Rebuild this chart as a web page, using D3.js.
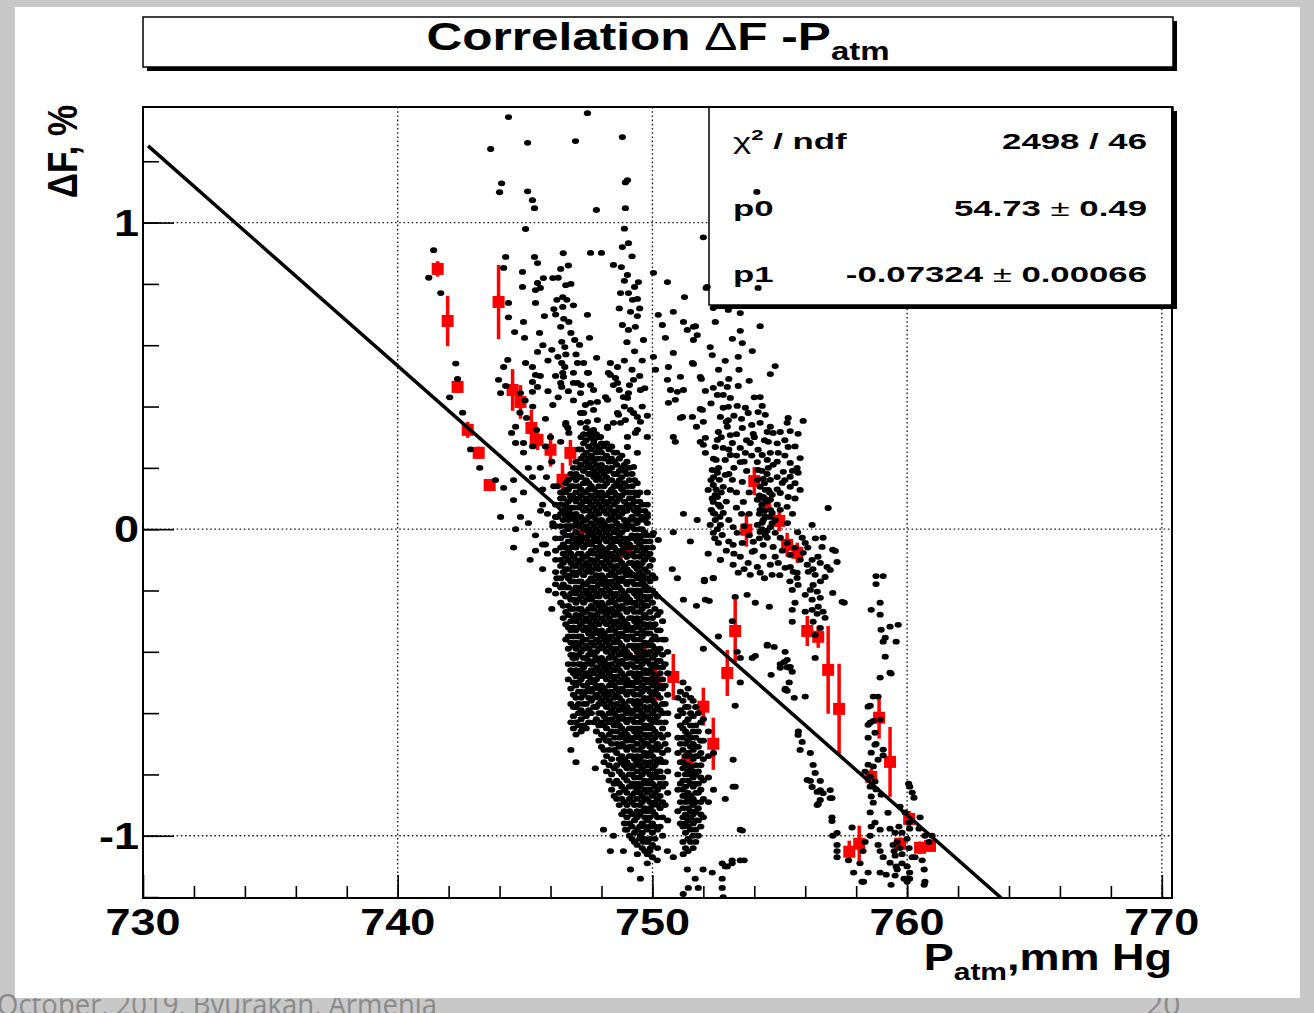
<!DOCTYPE html>
<html>
<head>
<meta charset="utf-8">
<script src="https://cdn.jsdelivr.net/npm/d3@7"></script>
<style>
  html, body { margin: 0; background: #c8c8c8; }
  svg { display: block; }
</style>
</head>
<body>
<svg id="chart" width="1314" height="1013"></svg>
<script>
// ── axis ticks / fit ─────────────────────────────
const xTicks = [730, 740, 750, 760, 770];
const yTicks = [-1, 0, 1];
const fitP0 = 54.73;
const fitP1 = -0.07324;
const statsRows = [
  { label: 'chi', value: '2498 / 46' },
  { label: 'p0', value: '54.73', err: '0.49' },
  { label: 'p1', value: '-0.07324', err: '0.00066' },
];

// ── red profile points (P, ΔF, error) ────────────
const binP   = [741.57, 741.96, 742.35, 742.75, 743.18, 743.61, 743.96, 744.51, 744.82, 745.25, 745.49, 746.0, 746.47, 746.78, 747.10,
                748.98, 749.53, 750.12, 750.82, 751.37, 752.0, 752.39, 752.94, 753.25, 753.69, 754.0, 754.43, 754.98, 755.29, 755.69,
                756.08, 756.51, 756.90, 757.33, 757.73, 758.12, 758.59, 758.90, 759.33, 759.73, 760.08, 760.51, 760.90];
const binDF  = [0.849, 0.679, 0.464, 0.324, 0.249, 0.144, 0.741, 0.454, 0.415, 0.330, 0.291, 0.259, 0.161, 0.249, -0.019,
                -0.074, -0.403, -0.498, -0.482, -0.752, -0.579, -0.700, -0.469, -0.332, -0.002, 0.157, 0.076, 0.027, -0.051, -0.077,
                -0.332, -0.351, -0.459, -0.586, -1.052, -1.026, -0.808, -0.615, -0.759, -1.026, -0.945, -1.039, -1.033];
const binErr = [0.025, 0.082, 0.02, 0.026, 0.02, 0.02, 0.121, 0.068, 0.055, 0.059, 0.033, 0.055, 0.055, 0.042, 0.026,
                0.026, 0.026, 0.065, 0.075, 0.026, 0.062, 0.085, 0.075, 0.101, 0.055, 0.046, 0.033, 0.033, 0.039, 0.033,
                0.049, 0.036, 0.143, 0.147, 0.036, 0.059, 0.026, 0.068, 0.114, 0.02, 0.026, 0.02, 0.02];

// ── black points, [P, ΔF] ─────────────────────────
const dotsWest = [
  [741.41,0.91],[741.22,0.82],[741.69,0.77],[742.28,0.54],[742.35,0.49],[742.04,0.43],[742.55,0.38],[742.86,0.26],
  [743.22,0.20],[743.84,0.16],[744.16,0.135],[744.04,0.04],[744.55,-0.06],[744.55,0.095],[744.82,0.04],[745.13,0.02],
  [744.63,0.0],[745.41,-0.02],[745.69,-0.05],[746.09,0.02],[746.21,0.04],[746.4,0.10],[746.6,0.13],[745.69,0.08],
  [745.88,0.05],[746.13,0.14],[746.79,0.105],[746.71,0.01],[744.55,0.16],[745.13,0.20],[745.6,0.20],[745.29,0.17],
  [744.94,0.12],[744.94,0.25],[745.8,-0.05],[745.88,-0.08],[745.69,-0.13],[746.25,-0.16],[745.92,-0.20],[745.41,-0.07],
  [745.2,-0.10],[746.05,-0.26],[746.05,0.22],[745.84,0.17],[745.69,0.13],[745.61,0.06],[746.27,0.04],[746.09,0.01],
  [746.6,0.07],[746.87,0.105],[746.68,0.16],[746.27,0.14]
];
const dotsUpper = [
  [744.35,1.344],[747.45,1.357],[743.65,1.24],[745.1,1.26],[746.98,1.266],[748.82,1.279],[744.08,1.128],[744.0,1.099],
  [745.1,1.102],[745.29,1.073],[745.37,1.047],[748.94,1.131],[749.02,1.138],[747.8,1.041],[748.94,1.047],[745.02,0.979],
  [748.82,0.92],[749.06,0.933],[747.57,0.901],[748.0,0.901],[752.0,0.952],[754.1,1.10],[754.15,0.787],
  [744.24,0.888],[744.16,0.852],[745.37,0.888],[745.49,0.868],[744.9,0.839],[746.4,0.849],[745.49,0.803],[745.72,0.819],
  [746.09,0.819],[746.6,0.796],[745.41,0.78],[745.6,0.787],[746.25,0.748],[746.48,0.757],[746.64,0.748],[745.41,0.738],
  [744.35,0.738],[744.94,0.676],[744.9,0.79],[744.35,0.691],[745.76,0.695],[746.13,0.718],[746.48,0.725],[746.52,0.686],
  [746.72,0.676],[747.45,0.699],[748.47,0.862],[748.78,0.855],[749.02,0.829],[749.45,0.806],[749.41,0.751],[748.75,0.77],
  [749.06,0.77],[749.22,0.748],[749.14,0.709],[749.41,0.695],[748.82,0.666],[749.06,0.65],[749.33,0.66],[749.65,0.617],
  [750.04,0.836],[750.59,0.806],[751.26,0.757],[750.82,0.709],[750.23,0.699],[750.39,0.666],[751.22,0.676],[751.61,0.66],
  [751.37,0.65],[751.76,0.633],[752.11,0.787],
  [746.5,0.90],[746.7,0.86],[746.3,0.82],[746.8,0.80],[746.9,0.73],[746.2,0.70],[746.4,0.66],[746.8,0.64],
  [748.9,0.98],[749.2,0.89],[748.9,0.81],[749.3,0.79],[749.5,0.72],[748.7,0.72]
];
const dotsSpine = [
  [744.59,0.643],[744.98,0.624],[745.57,0.64],[746.05,0.585],[746.44,0.611],[746.56,0.594],[746.95,0.617],[747.14,0.601],
  [747.53,0.624],[747.3,0.542],[747.81,0.559],[746.29,0.562],[746.44,0.542],[746.56,0.529],[746.48,0.51],[746.4,0.477],
  [746.44,0.464],[747.06,0.542],[747.45,0.51],[747.06,0.477],[747.57,0.47],[748.35,0.542],[748.63,0.529],[748.27,0.51],
  [748.55,0.493],[748.47,0.47],[748.7,0.454],[749.06,0.444],[749.02,0.428],[748.16,0.431],[747.84,0.415],[747.37,0.405],
  [747.69,0.389],[747.18,0.379],[745.49,0.578],[745.29,0.529],[745.02,0.542],[744.32,0.552],[744.16,0.529],[745.41,0.503],
  [745.29,0.48],[743.96,0.487],[744.24,0.467],[744.04,0.444],[744.82,0.444],[745.29,0.448],[745.49,0.464],[746.09,0.405],
  [744.63,0.334],[744.47,0.314],[744.63,0.281],[744.94,0.281],[745.06,0.363],[745.45,0.324],[746.4,0.285],[746.6,0.34],
  [746.72,0.314],[747.45,0.35],[747.69,0.324],[747.96,0.301],[748.24,0.33],[748.47,0.347],[748.67,0.373],[748.94,0.356],
  [749.26,0.379],[749.53,0.35],[749.33,0.314],[749.02,0.268],[749.41,0.249],[749.26,0.203],[749.41,0.118],[749.45,0.063],
  [749.8,0.04],[750.04,-0.012],[750.23,-0.035],[746.6,0.347],[746.68,0.33],[747.3,0.379],[747.57,0.412],[747.18,0.444],
  [747.69,0.454],[746.9,0.477],[746.51,0.497],[747.49,0.51],[748.35,0.503],[748.63,0.477],[749.26,0.487],[749.53,0.454],
  [748.86,0.431],[748.24,0.422],[749.14,0.389],[748.63,0.379],[749.41,0.366],[747.18,0.347],[747.84,0.356],[748.24,0.334],
  [748.75,0.347],[749.41,0.324],[749.8,0.301],[747.57,0.314],[749.02,0.301],[750.51,0.624],[750.82,0.575],[750.63,0.529],
  [751.1,0.497],[751.57,0.542],[751.88,0.497],[751.96,0.389],[751.57,0.366],[751.1,0.363],[750.82,0.301],[751.88,0.285],
  [752.08,0.249],[750.04,0.562],[750.12,0.52],[750.71,0.454],[750.9,0.422],[750.59,0.487],[750.98,0.448],[751.22,0.454],
  [750.63,0.412],[751.18,0.366],[750.9,0.285],
  [747.0,0.57],[746.6,0.57],[746.9,0.51],[746.2,0.50],[746.7,0.45],[746.3,0.43],[746.9,0.42],[747.2,0.47],
  [749.0,0.61],[749.3,0.58],[749.6,0.55],[748.9,0.55],[749.2,0.52],[749.5,0.50],[749.7,0.46],[749.1,0.47],
  [749.6,0.40],[749.8,0.37],[748.9,0.40],[745.7,0.60],[745.9,0.55],[745.6,0.50],[745.9,0.45],[745.3,0.40],
  [745.8,0.36],[745.0,0.42],[744.8,0.38],[746.0,0.30],[745.8,0.27],[745.3,0.27]
];
const dotsGap = [
  [751.22,0.05],[751.76,0.03],[750.82,-0.01],[751.49,-0.04],[752.19,-0.08],[750.78,-0.13],[750.98,-0.16],[751.22,-0.23],
  [751.73,-0.25],[752.04,-0.17],[752.39,-0.16],[752.08,-0.23],[752.67,-0.10],[753.14,-0.30],[753.33,-0.40],[753.45,-0.42],
  [752.59,-0.35],[752.0,-0.39],[753.92,-0.42],[754.51,-0.38],[755.02,-0.44],[755.29,-0.45],[755.22,-0.52],[755.73,-0.66],
  [753.17,-0.84],[752.86,-0.88],[753.45,-0.98],[747.76,-0.78],[748.27,-0.69],[746.88,-0.42],[747.26,-0.65],[746.8,-0.72],
  [747.0,-0.76],[749.53,-1.00],[749.92,-1.04],[749.41,-1.06],[750.19,-1.08],[749.8,-1.09],[750.59,-1.05],[750.82,-1.07],
  [751.21,-1.06],[751.37,-1.11],[751.68,-1.14],[751.41,-1.17],[751.21,-1.19],[751.8,-1.17],[751.99,-1.11],[752.74,-1.09],
  [752.94,-1.10],[753.13,-1.08],[753.45,-1.08],[752.74,-1.14],[752.74,-1.17],[752.78,-1.20],[752.35,-1.12],[749.65,-1.02],
  [749.14,-1.11],[749.53,-1.14],[748.35,-1.05],[748.94,-0.98],[748.08,-0.98],[748.47,-1.00],[748.86,-1.05]
];
const dotsEast = [
  [752.15,0.79],[752.39,0.721],[752.98,0.715],[753.45,0.705],[752.47,0.676],[754.23,0.662],[751.69,0.662],[751.61,0.617],
  [753.45,0.647],[753.14,0.621],[753.53,0.607],[752.27,0.594],[752.35,0.568],[753.92,0.581],[752.86,0.549],[753.37,0.562],
  [751.61,0.539],[754.82,0.532],[754.63,0.506],[751.92,0.49],[753.8,0.484],[753.37,0.467],[752.08,0.451],[752.39,0.461],
  [752.67,0.474],[752.94,0.464],[752.55,0.438],[752.78,0.438],[753.06,0.428],[754.23,0.431],[754.31,0.402],[753.33,0.402],
  [753.65,0.396],[751.88,0.392],[752.78,0.396],[752.98,0.399],[753.76,0.379],[754.15,0.382],[754.43,0.373],[752.0,0.35],
  [751.73,0.334],[752.67,0.366],[752.98,0.356],[752.94,0.334],[753.53,0.33],[754.23,0.347],[754.63,0.334],[755.33,0.363],
  [755.29,0.347],[755.92,0.353],[752.59,0.317],[753.06,0.307],[753.96,0.311],[754.51,0.317],[754.74,0.314],[755.02,0.317],
  [755.41,0.32],[755.72,0.311],[752.08,0.298],[752.55,0.291],[753.14,0.281],[753.84,0.281],[754.55,0.285],[752.0,0.275],
  [752.47,0.268],[752.78,0.265],[753.45,0.265],[754.15,0.259],[753.06,0.242],[753.65,0.249],[754.31,0.242],[754.63,0.249],
  [754.94,0.249],[755.33,0.268],[755.8,0.232],[752.86,0.226],[753.45,0.219],[754.12,0.219],[754.51,0.226],[754.74,0.21],
  [755.41,0.216],[755.68,0.2],[754.15,0.193],[754.55,0.2],[755.14,0.187],[752.55,0.184],[752.86,0.177],[753.14,0.161],
  [753.53,0.154],[754.35,0.164],[754.63,0.161],[755.41,0.171],[755.72,0.184],[752.39,0.144],[752.78,0.138],[753.06,0.128],
  [754.23,0.138],[754.55,0.128],[755.1,0.151],[755.41,0.138],[755.8,0.128],[753.57,0.089],[752.55,0.105],[752.39,0.089],
  [752.67,0.073],[754.35,0.105],[754.63,0.096],[755.02,0.118],[755.33,0.105],[755.29,0.073],[756.9,0.069],[752.39,0.053],
  [752.78,0.053],[754.23,0.063],[754.43,0.04],[754.7,0.053],[755.02,0.063],[752.47,0.03],[752.67,0.014],[753.17,0.007],
  [754.31,0.021],[754.63,0.007],[754.82,-0.012],[756.27,0.014],[752.39,-0.012],[752.74,-0.019],[753.33,-0.012],[754.23,-0.009],
  [754.51,-0.028],[755.02,-0.028],[755.29,-0.045],[755.88,-0.028],[756.0,-0.045],[756.7,-0.028],[752.59,-0.045],[753.17,-0.051],
  [753.53,-0.045],[753.96,-0.041],[754.35,-0.051],[754.74,-0.058],[756.66,-0.058],[757.08,-0.067],[753.45,-0.09],[753.92,-0.074],
  [754.35,-0.09],[754.82,-0.09],[755.41,-0.084],[755.92,-0.077],[756.27,-0.1],[756.5,-0.09],[752.67,-0.1],[753.17,-0.116],
  [753.76,-0.11],[754.12,-0.123],[754.63,-0.116],[754.94,-0.11],[755.41,-0.123],[756.08,-0.116],[756.59,-0.11],[756.86,-0.123],
  [756.98,-0.133],[753.37,-0.142],[753.84,-0.149],[754.23,-0.142],[754.7,-0.149],[755.68,-0.142],[756.12,-0.139],[756.39,-0.149],
  [756.78,-0.156],[752.39,-0.159],[752.35,0.193],[752.19,0.128],[752.31,0.063],[752.47,0.112],[752.63,0.161],[752.5,0.226],
  [752.27,0.014],[754.12,0.161],[754.43,0.128],[754.12,0.096],[754.63,0.063],[754.35,0.03],[754.82,0.03],[754.43,-0.019],
  [754.12,0.014],[754.7,0.112],[754.2,0.11],[754.3,0.08],[754.4,0.06],[754.5,0.09],[754.6,0.04],[754.2,0.05],[754.3,0.0],
  [754.5,-0.005],[754.6,0.12],[754.4,0.15],[754.5,0.18],[754.3,0.19],[754.2,-0.03],[754.7,0.02],[754.4,0.1],[752.4,0.17],
  [752.5,0.13],[752.6,0.08],[752.45,0.05],[752.7,0.12],[752.35,0.1],[752.55,0.0],[752.45,-0.03],[752.65,0.04],[752.3,0.16],
  [752.6,0.2],[752.4,0.23],
  [752.9,0.35],[753.2,0.37],[753.5,0.36],[753.9,0.34],[754.0,0.30],[753.3,0.31],[752.7,0.30],[753.7,0.29],[754.4,0.29],
  [754.9,0.28],[755.2,0.29],[755.6,0.27],[753.0,0.26],[753.3,0.24],[753.9,0.24],[754.9,0.22],[755.2,0.24],[755.5,0.19],
  [753.2,0.20],[753.7,0.19],[754.9,0.17],[755.2,0.16],[755.6,0.15],[753.3,0.12],[753.8,0.12],[754.9,0.13],[755.6,0.10],
  [753.3,0.07],[753.8,0.05],[754.9,0.08],[755.5,0.05],[753.0,0.03],[753.6,0.01],[755.3,0.02],[755.7,-0.01],[753.0,-0.04],
  [753.8,-0.02],[755.6,-0.06],[756.1,-0.06],[756.4,-0.03],[753.2,-0.08],[754.0,-0.07],[755.1,-0.07],[755.8,-0.10],
  [756.3,-0.13],[753.6,-0.13],[754.4,-0.16],[755.0,-0.15],[755.4,-0.17],[756.6,-0.17],[752.9,0.09],[753.5,0.05],
  [752.9,-0.07],[753.0,0.18],[753.6,0.22],[754.0,0.43],[753.0,0.49],[752.6,0.52],[753.4,0.52],[752.3,0.41]
];
const dotsEastTail = [
  [752.04,-0.165],[753.25,-0.221],[753.72,-0.214],[754.04,-0.24],[754.59,-0.253],[755.49,-0.263],[756.27,-0.263],[756.47,-0.276],
  [756.78,-0.289],[757.18,-0.071],[757.25,-0.107],[757.53,-0.24],[752.23,-0.234],[754.04,-0.413],[754.51,-0.377],[754.78,-0.384],
  [755.02,-0.452],[755.18,-0.433],[755.37,-0.452],[755.49,-0.465],[755.29,-0.527],[755.57,-0.55],[754.66,-0.475],[756.0,-0.546],
  [755.37,-0.5],[753.45,-0.5],[753.25,-0.576],[753.17,-0.752],[753.25,-0.84],[753.53,-0.983],[753.6,-1.08],[752.86,-1.1],
  [753.13,-1.09],[755.21,-0.126],[755.53,-0.139],[755.68,-0.159],[755.49,-0.198],[755.72,-0.182],[755.6,-0.24],[756.0,-0.214],
  [756.2,-0.198],[756.31,-0.182],[756.47,-0.204],[756.27,-0.23],[756.59,-0.224],[756.51,-0.253],[756.0,-0.269],[756.7,-0.269],
  [757.08,-0.208],[757.45,-0.237],[756.31,-0.302],[756.59,-0.322],[755.49,-0.302],[756.39,-0.345],[756.39,-0.42],[755.21,-0.4],
  [755.29,-0.426],[755.41,-0.449],[755.21,-0.524],[755.72,-0.671],[755.88,-0.694],[755.8,-0.72],[756.2,-0.73],[756.31,-0.769],
  [756.39,-0.795],[756.08,-0.818],[756.27,-0.841],[756.59,-0.851],[756.7,-0.861],[756.98,-0.851],[756.59,-0.883],[756.47,-0.9],
  [756.98,-0.877],[756.2,-0.821],[756.59,-0.821],[756.47,-0.857],[757.05,-0.877],[756.51,-0.896],[757.05,-0.952],[757.25,-0.991],
  [757.25,-1.03],[757.25,-1.07],[757.9,-1.12],[758.29,-1.15],[757.7,-1.08],[757.84,-0.973],[757.08,-1.0],[757.05,-0.94],
  [757.25,-1.05],[758.15,-1.09],[758.47,-1.12],[758.94,-1.12],[758.23,-1.15]
];
const dotsStreak = [
  [758.78,-0.153],[759.06,-0.153],[758.78,-0.179],[758.94,-0.24],[758.59,-0.263],[758.94,-0.279],[759.33,-0.318],[759.65,-0.312],
  [758.98,-0.328],[759.14,-0.354],[759.06,-0.367],[759.57,-0.367],[759.14,-0.416],[759.33,-0.468],[758.94,-0.484],[758.67,-0.546],
  [758.47,-0.579],[758.94,-0.621],[758.55,-0.631],[758.74,-0.664],[758.47,-0.68],[758.74,-0.703],[759.06,-0.719],[758.59,-0.729],
  [758.86,-0.752],[758.47,-0.768],[758.67,-0.774],[758.35,-0.791],[758.55,-0.807],[758.74,-0.823],[758.55,-0.84],[758.78,-0.849],
  [758.59,-0.872],[758.98,-0.866],[758.67,-0.892],[758.55,-0.924],[758.74,-0.957],[758.59,-0.97],[758.94,-0.98],[758.55,-1.0],
  [758.86,-1.03],[758.35,-1.02],[758.94,-1.05],[759.06,-1.07],[758.27,-1.05],[758.55,-0.576],[758.47,-0.638],[758.67,-0.625],
  [759.37,-0.471],[758.86,-0.546],[758.78,-0.7],[759.06,-0.738],[759.25,-0.925],[759.33,-0.977],[759.45,-1.03],[759.53,-1.065],
  [759.33,-1.088],[759.57,-1.1],[759.18,-1.127],[759.37,-1.16]
];
const dotsFar = [
  [760.1,-0.84],[760.2,-0.859],[760.27,-0.876],[759.72,-0.905],[759.92,-0.924],[760.08,-0.957],[759.68,-0.97],[759.53,-0.99],
  [759.8,-0.99],[759.61,-1.02],[760.0,-1.01],[759.72,-1.04],[760.08,-1.04],[759.49,-1.05],[759.8,-1.06],[760.2,-1.07],
  [759.8,-1.09],[760.0,-1.1],[759.61,-1.11],[760.1,-1.12],[759.53,-1.13],[759.88,-1.14],[760.1,-1.14],[760.59,-1.08],
  [760.67,-1.11],[760.7,-1.15],[760.7,-1.0],[760.86,-1.02],[760.51,-0.94],[760.1,-0.977],[760.06,-0.83],[760.0,-1.15],
  [760.31,-1.07],[760.47,-0.977],[760.67,-1.16],[760.98,-1.0]
];
// dense core, one row per pressure reading: [P, ΔF, ΔF, ...]
const blobColumns = [
  [746.2, 0.08,0.04,0.01,-0.03,-0.07,-0.10,-0.14,-0.18,-0.21],
  [746.4, 0.12,0.08,0.05,0.01,-0.03,-0.06,-0.10,-0.12,-0.16,-0.19,-0.24],
  [746.6, 0.15,0.12,0.08,0.04,0.01,-0.02,-0.06,-0.09,-0.13,-0.15,-0.19,-0.22,-0.27,-0.31,-0.36],
  [746.8, 0.18,0.14,0.11,0.07,0.05,0.01,-0.02,-0.06,-0.08,-0.11,-0.15,-0.17,-0.21,-0.23,-0.26,-0.30,-0.33,-0.37,-0.41,-0.46,-0.52,-0.57,-0.63],
  [747.0, 0.22,0.18,0.16,0.12,0.09,0.05,0.03,-0.01,-0.04,-0.06,-0.10,-0.12,-0.15,-0.19,-0.21,-0.24,-0.28,-0.30,-0.33,-0.37,-0.39,-0.42,-0.46,-0.48,-0.51,-0.55,-0.58,-0.63,-0.67],
  [747.2, 0.30,0.26,0.23,0.21,0.17,0.13,0.11,0.08,0.04,0.02,-0.02,-0.04,-0.08,-0.10,-0.13,-0.17,-0.19,-0.22,-0.26,-0.28,-0.31,-0.35,-0.37,-0.40,-0.44,-0.46,-0.49,-0.53,-0.55,-0.59,-0.62,-0.66],
  [747.4, 0.33,0.29,0.25,0.22,0.20,0.16,0.12,0.10,0.07,0.03,0.01,-0.03,-0.05,-0.09,-0.11,-0.14,-0.18,-0.20,-0.23,-0.27,-0.29,-0.32,-0.36,-0.38,-0.42,-0.44,-0.47,-0.51,-0.53,-0.57,-0.61,-0.65],
  [747.6, 0.32,0.30,0.26,0.24,0.20,0.18,0.14,0.11,0.08,0.05,0.02,-0.01,-0.05,-0.07,-0.10,-0.14,-0.16,-0.19,-0.23,-0.25,-0.28,-0.31,-0.35,-0.37,-0.40,-0.44,-0.46,-0.49,-0.53,-0.56,-0.60],
  [747.8, 0.31,0.27,0.25,0.21,0.18,0.16,0.12,0.09,0.06,0.03,0.00,-0.03,-0.06,-0.10,-0.12,-0.15,-0.19,-0.21,-0.24,-0.28,-0.30,-0.33,-0.36,-0.40,-0.42,-0.45,-0.49,-0.51,-0.54,-0.58,-0.62,-0.66],
  [748.0, 0.28,0.25,0.21,0.19,0.16,0.12,0.10,0.07,0.03,0.01,-0.02,-0.06,-0.08,-0.11,-0.15,-0.17,-0.20,-0.24,-0.26,-0.29,-0.33,-0.35,-0.38,-0.42,-0.44,-0.47,-0.51,-0.53,-0.56,-0.60,-0.63,-0.67,-0.71],
  [748.2, 0.28,0.24,0.20,0.17,0.15,0.11,0.08,0.05,0.01,-0.01,-0.04,-0.08,-0.10,-0.13,-0.17,-0.19,-0.22,-0.26,-0.28,-0.31,-0.35,-0.37,-0.40,-0.44,-0.46,-0.49,-0.53,-0.55,-0.58,-0.62,-0.65,-0.69,-0.74,-0.79],
  [748.4, 0.27,0.23,0.20,0.16,0.13,0.10,0.06,0.04,0.01,-0.03,-0.05,-0.08,-0.12,-0.14,-0.17,-0.21,-0.23,-0.26,-0.30,-0.32,-0.35,-0.39,-0.41,-0.44,-0.48,-0.50,-0.53,-0.57,-0.59,-0.62,-0.66,-0.70,-0.75,-0.80,-0.85],
  [748.6, 0.25,0.21,0.18,0.15,0.11,0.09,0.06,0.02,0.00,-0.03,-0.07,-0.09,-0.12,-0.16,-0.18,-0.21,-0.25,-0.27,-0.30,-0.34,-0.36,-0.39,-0.43,-0.45,-0.48,-0.52,-0.54,-0.57,-0.61,-0.63,-0.66,-0.70,-0.73,-0.77,-0.82,-0.88],
  [748.8, 0.24,0.20,0.17,0.13,0.11,0.07,0.05,0.01,-0.01,-0.05,-0.07,-0.11,-0.13,-0.16,-0.20,-0.22,-0.25,-0.29,-0.31,-0.34,-0.38,-0.40,-0.43,-0.47,-0.49,-0.52,-0.56,-0.58,-0.61,-0.65,-0.67,-0.70,-0.74,-0.76,-0.80,-0.84,-0.88,-0.93],
  [749.0, 0.22,0.18,0.14,0.12,0.08,0.06,0.02,0.00,-0.04,-0.06,-0.09,-0.13,-0.15,-0.18,-0.22,-0.24,-0.27,-0.31,-0.33,-0.36,-0.40,-0.42,-0.45,-0.49,-0.51,-0.54,-0.58,-0.60,-0.63,-0.67,-0.69,-0.72,-0.76,-0.78,-0.82,-0.86,-0.90,-0.94,-0.98],
  [749.2, 0.18,0.14,0.10,0.08,0.04,0.01,-0.02,-0.06,-0.08,-0.11,-0.15,-0.17,-0.20,-0.24,-0.26,-0.29,-0.33,-0.35,-0.38,-0.42,-0.44,-0.47,-0.51,-0.53,-0.56,-0.60,-0.62,-0.65,-0.69,-0.71,-0.74,-0.78,-0.80,-0.83,-0.87,-0.89,-0.93,-0.97,-1.01],
  [749.4, 0.15,0.11,0.07,0.05,0.02,-0.02,-0.04,-0.07,-0.11,-0.13,-0.16,-0.20,-0.22,-0.25,-0.29,-0.31,-0.34,-0.38,-0.40,-0.43,-0.47,-0.49,-0.52,-0.56,-0.58,-0.61,-0.65,-0.67,-0.70,-0.74,-0.76,-0.79,-0.83,-0.85,-0.88,-0.92,-0.94,-0.98,-1.03],
  [749.6, 0.08,0.04,0.00,-0.02,-0.06,-0.08,-0.11,-0.15,-0.17,-0.20,-0.24,-0.26,-0.29,-0.33,-0.35,-0.38,-0.42,-0.44,-0.47,-0.51,-0.53,-0.56,-0.60,-0.62,-0.65,-0.69,-0.71,-0.74,-0.78,-0.80,-0.83,-0.87,-0.89,-0.92,-0.96,-0.99,-1.04],
  [749.8, 0.12,0.08,0.05,0.02,-0.02,-0.06,-0.09,-0.14,-0.16,-0.20,-0.23,-0.25,-0.29,-0.32,-0.34,-0.38,-0.41,-0.43,-0.47,-0.50,-0.52,-0.56,-0.59,-0.61,-0.65,-0.68,-0.70,-0.74,-0.77,-0.79,-0.83,-0.86,-0.88,-0.92,-0.95,-0.98,-1.02,-1.06],
  [750.0, -0.02,-0.06,-0.10,-0.15,-0.20,-0.24,-0.29,-0.32,-0.36,-0.38,-0.42,-0.45,-0.47,-0.51,-0.54,-0.56,-0.60,-0.63,-0.65,-0.69,-0.72,-0.74,-0.78,-0.81,-0.83,-0.87,-0.90,-0.92,-0.96,-0.99,-1.03,-1.07],
  [750.2, -0.22,-0.28,-0.33,-0.36,-0.40,-0.43,-0.45,-0.49,-0.52,-0.54,-0.58,-0.61,-0.63,-0.67,-0.70,-0.72,-0.76,-0.79,-0.81,-0.85,-0.88,-0.90,-0.94,-0.98,-1.04],
  [750.4, -0.30,-0.36,-0.41,-0.45,-0.49,-0.52,-0.57,-0.60,-0.65,-0.68,-0.73,-0.76,-0.81,-0.84,-0.89,-0.94,-1.00],
  [750.6, -0.40,-0.47,-0.54,-0.60,-0.67,-0.72,-0.79,-0.86,-0.95]
];
// readings in between the rows above
const blobColumnsB = [
  [746.5, 0.10,0.06,0.03,-0.01,-0.05,-0.08,-0.11,-0.14,-0.18,-0.21,-0.25,-0.29],
  [746.7, 0.16,0.13,0.09,0.06,0.03,0.00,-0.04,-0.07,-0.10,-0.13,-0.16,-0.19,-0.22,-0.25,-0.28,-0.32,-0.35,-0.39,-0.44,-0.49],
  [746.9, 0.20,0.17,0.14,0.10,0.07,0.04,0.01,-0.03,-0.05,-0.09,-0.12,-0.14,-0.17,-0.20,-0.23,-0.26,-0.29,-0.32,-0.35,-0.38,-0.41,-0.44,-0.47,-0.50,-0.54,-0.58,-0.61,-0.65],
  [747.1, 0.26,0.20,0.17,0.14,0.10,0.07,0.04,0.01,-0.03,-0.05,-0.08,-0.11,-0.14,-0.17,-0.20,-0.23,-0.26,-0.29,-0.32,-0.35,-0.38,-0.41,-0.44,-0.47,-0.50,-0.53,-0.57,-0.60,-0.64],
  [747.3, 0.31,0.28,0.24,0.19,0.15,0.12,0.09,0.06,0.03,0.00,-0.03,-0.06,-0.09,-0.12,-0.15,-0.18,-0.21,-0.24,-0.27,-0.30,-0.33,-0.36,-0.39,-0.42,-0.45,-0.48,-0.51,-0.54,-0.57,-0.60,-0.64],
  [747.5, 0.31,0.27,0.23,0.21,0.18,0.15,0.13,0.09,0.06,0.04,0.00,-0.02,-0.04,-0.08,-0.12,-0.13,-0.17,-0.21,-0.22,-0.26,-0.30,-0.33,-0.34,-0.39,-0.41,-0.43,-0.48,-0.50,-0.52,-0.55,-0.59,-0.63],
  [747.7, 0.29,0.28,0.23,0.22,0.19,0.17,0.13,0.10,0.07,0.04,0.01,-0.02,-0.04,-0.08,-0.11,-0.13,-0.17,-0.20,-0.22,-0.26,-0.29,-0.32,-0.34,-0.38,-0.41,-0.43,-0.47,-0.50,-0.52,-0.55,-0.58,-0.63],
  [747.9, 0.30,0.26,0.23,0.20,0.17,0.14,0.11,0.08,0.05,0.02,-0.01,-0.04,-0.07,-0.09,-0.13,-0.16,-0.18,-0.22,-0.25,-0.27,-0.31,-0.34,-0.37,-0.39,-0.43,-0.46,-0.48,-0.52,-0.55,-0.57,-0.60,-0.64,-0.69],
  [748.1, 0.27,0.23,0.20,0.18,0.14,0.11,0.09,0.06,0.02,0.00,-0.03,-0.07,-0.09,-0.12,-0.16,-0.18,-0.21,-0.25,-0.27,-0.30,-0.34,-0.36,-0.39,-0.43,-0.45,-0.48,-0.52,-0.54,-0.57,-0.61,-0.64,-0.68,-0.72,-0.76],
  [748.3, 0.26,0.22,0.19,0.16,0.12,0.09,0.07,0.03,0.00,-0.02,-0.06,-0.09,-0.11,-0.15,-0.18,-0.20,-0.24,-0.27,-0.29,-0.33,-0.36,-0.38,-0.42,-0.45,-0.47,-0.51,-0.54,-0.56,-0.60,-0.63,-0.67,-0.72,-0.77,-0.82],
  [748.5, 0.25,0.22,0.18,0.14,0.12,0.08,0.05,0.03,-0.01,-0.04,-0.06,-0.10,-0.13,-0.15,-0.19,-0.22,-0.24,-0.28,-0.31,-0.33,-0.37,-0.40,-0.42,-0.46,-0.49,-0.51,-0.55,-0.58,-0.60,-0.64,-0.68,-0.72,-0.78,-0.83,-0.87],
  [748.7, 0.23,0.19,0.16,0.14,0.10,0.07,0.04,0.01,-0.02,-0.04,-0.08,-0.10,-0.14,-0.17,-0.19,-0.23,-0.26,-0.28,-0.32,-0.35,-0.37,-0.41,-0.44,-0.46,-0.50,-0.53,-0.55,-0.59,-0.62,-0.64,-0.68,-0.71,-0.75,-0.79,-0.83,-0.86,-0.90],
  [748.9, 0.21,0.19,0.15,0.12,0.09,0.06,0.03,0.01,-0.03,-0.06,-0.08,-0.12,-0.14,-0.17,-0.21,-0.23,-0.26,-0.30,-0.32,-0.35,-0.39,-0.41,-0.44,-0.48,-0.50,-0.53,-0.57,-0.59,-0.62,-0.66,-0.68,-0.71,-0.75,-0.77,-0.81,-0.85,-0.89,-0.92,-0.96],
  [749.1, 0.20,0.16,0.12,0.10,0.07,0.03,0.01,-0.03,-0.05,-0.08,-0.11,-0.14,-0.17,-0.20,-0.23,-0.26,-0.29,-0.32,-0.35,-0.38,-0.41,-0.44,-0.47,-0.50,-0.53,-0.56,-0.59,-0.62,-0.65,-0.68,-0.71,-0.74,-0.77,-0.80,-0.84,-0.88,-0.92,-0.96,-1.00],
  [749.3, 0.16,0.12,0.09,0.06,0.03,0.00,-0.03,-0.06,-0.09,-0.12,-0.15,-0.18,-0.21,-0.24,-0.27,-0.30,-0.32,-0.36,-0.39,-0.42,-0.45,-0.48,-0.50,-0.54,-0.57,-0.59,-0.63,-0.66,-0.68,-0.72,-0.75,-0.77,-0.81,-0.84,-0.86,-0.90,-0.95,-0.99,-1.02],
  [749.5, 0.12,0.09,0.06,0.03,0.00,-0.03,-0.05,-0.09,-0.12,-0.14,-0.18,-0.21,-0.23,-0.27,-0.30,-0.32,-0.36,-0.39,-0.41,-0.45,-0.48,-0.50,-0.54,-0.57,-0.59,-0.63,-0.66,-0.68,-0.72,-0.75,-0.77,-0.81,-0.84,-0.86,-0.90,-0.93,-0.97,-1.01],
  [749.7, 0.06,0.03,-0.01,-0.04,-0.07,-0.10,-0.13,-0.16,-0.19,-0.22,-0.25,-0.28,-0.31,-0.34,-0.37,-0.40,-0.43,-0.46,-0.49,-0.52,-0.55,-0.58,-0.61,-0.64,-0.67,-0.70,-0.73,-0.76,-0.79,-0.82,-0.85,-0.88,-0.91,-0.94,-0.97,-1.01,-1.05],
  [749.9, -0.04,-0.08,-0.12,-0.17,-0.22,-0.27,-0.31,-0.34,-0.37,-0.40,-0.44,-0.46,-0.49,-0.53,-0.55,-0.58,-0.62,-0.64,-0.67,-0.71,-0.73,-0.76,-0.80,-0.82,-0.85,-0.89,-0.91,-0.94,-0.97,-1.01,-1.05],
  [750.1, -0.16,-0.21,-0.26,-0.31,-0.35,-0.39,-0.41,-0.44,-0.48,-0.50,-0.53,-0.57,-0.59,-0.62,-0.66,-0.68,-0.71,-0.75,-0.77,-0.80,-0.84,-0.86,-0.89,-0.93,-0.97,-1.01],
  [750.3, -0.27,-0.33,-0.39,-0.43,-0.47,-0.51,-0.55,-0.59,-0.63,-0.67,-0.71,-0.75,-0.79,-0.83,-0.87,-0.91,-0.97],
  [750.5, -0.36,-0.44,-0.51,-0.57,-0.63,-0.70,-0.76,-0.83,-0.90]
];
const streakColumns = [
  [751.0, -0.55,-0.61,-0.68,-0.73,-0.80,-0.85,-0.92],
  [751.1, -0.53,-0.59,-0.64,-0.70,-0.76,-0.83,-0.89,-0.96],
  [751.2, -0.50,-0.56,-0.60,-0.65,-0.68,-0.72,-0.76,-0.78,-0.82,-0.85,-0.87,-0.91,-0.94,-0.97,-1.02],
  [751.3, -0.54,-0.58,-0.63,-0.66,-0.70,-0.74,-0.77,-0.80,-0.84,-0.87,-0.89,-0.93,-0.96,-0.99,-1.04],
  [751.4, -0.52,-0.58,-0.62,-0.67,-0.69,-0.73,-0.77,-0.79,-0.82,-0.86,-0.88,-0.91,-0.95,-0.97,-1.01,-1.05],
  [751.5, -0.55,-0.60,-0.64,-0.68,-0.71,-0.74,-0.78,-0.80,-0.83,-0.87,-0.89,-0.92,-0.94,-0.98,-1.02],
  [751.6, -0.56,-0.61,-0.66,-0.70,-0.72,-0.75,-0.79,-0.81,-0.84,-0.88,-0.90,-0.93,-0.96,-1.00,-1.04],
  [751.7, -0.58,-0.64,-0.68,-0.71,-0.74,-0.77,-0.80,-0.83,-0.86,-0.89,-0.92,-0.95,-0.98,-1.02],
  [751.8, -0.60,-0.66,-0.71,-0.74,-0.79,-0.83,-0.86,-0.91,-0.95,-1.00],
  [751.9, -0.63,-0.69,-0.73,-0.77,-0.81,-0.85,-0.89,-0.93,-0.97],
  [752.0, -0.62,-0.69,-0.75,-0.82,-0.88,-0.94],
  [752.2, -0.66,-0.74,-0.81,-0.89],
  [752.4, -0.73,-0.85]
];

// ── layout ────────────────────────────────────────
const FONT = '"Liberation Sans", Arial, Helvetica, sans-serif';
const frame = { left: 143, right: 1172, top: 107, bottom: 898 };
const SX = 1.25; // the slide is stretched sideways, text too

const x = d3.scaleLinear().domain([730, 770.4]).range([frame.left, frame.right]);
const y = d3.scaleLinear().domain([-1.203, 1.377]).range([frame.bottom, frame.top]);

const svg = d3.select('#chart');

// footer of the slide (mostly hidden under the white page)
const foot = svg.append('g').attr('fill', '#8a8a8a').attr('font-family', '"Open Sans", "Noto Sans", sans-serif').attr('font-size', 30);
foot.append('text').attr('x', -3).attr('y', 1015).attr('textLength', 440).attr('lengthAdjust', 'spacingAndGlyphs')
  .text('October, 2019, Byurakan, Armenia');
foot.append('text').attr('x', 1146).attr('y', 1015).text('20');

svg.append('rect').attr('x', 15).attr('y', 7).attr('width', 1285).attr('height', 991).attr('fill', '#fff');

svg.append('defs').append('clipPath').attr('id', 'plotClip')
  .append('rect').attr('x', frame.left).attr('y', frame.top)
  .attr('width', frame.right - frame.left).attr('height', frame.bottom - frame.top);

// grid
const grid = svg.append('g').attr('stroke', '#222').attr('stroke-width', 1.4).attr('stroke-dasharray', '1.6,2.6');
grid.selectAll('line.gx').data(xTicks.slice(1)).join('line').attr('class', 'gx')
  .attr('x1', d => x(d)).attr('x2', d => x(d)).attr('y1', frame.top).attr('y2', frame.bottom);
grid.selectAll('line.gy').data(yTicks).join('line').attr('class', 'gy')
  .attr('x1', frame.left).attr('x2', frame.right).attr('y1', d => y(d)).attr('y2', d => y(d));

// title box
function shadowBox(x0, y0, w, h) {
  svg.append('rect').attr('x', x0 + 4).attr('y', y0 + 4).attr('width', w).attr('height', h).attr('fill', '#000');
  svg.append('rect').attr('x', x0).attr('y', y0).attr('width', w).attr('height', h)
    .attr('fill', '#fff').attr('stroke', '#000').attr('stroke-width', 1.5);
}
shadowBox(143, 17, 1030, 50);
const title = svg.append('text').attr('transform', `translate(658,50) scale(1.27,1)`)
  .attr('text-anchor', 'middle').attr('font-family', FONT).attr('font-weight', 'bold').attr('font-size', 39);
title.append('tspan').text('Correlation ');
title.append('tspan').attr('font-weight', 'normal').text('Δ');
title.append('tspan').text('F -P');
title.append('tspan').attr('font-size', 26).attr('dy', 10).text('atm');

// stats box
shadowBox(709, 107, 464, 198);
const SSX = 1.58;
const rowY = [149, 216, 282];
statsRows.forEach((r, i) => {
  const left = svg.append('text').attr('transform', `translate(733,${rowY[i]}) scale(${SSX},1)`)
    .attr('font-family', FONT).attr('font-weight', 'bold').attr('font-size', 22);
  if (r.label === 'chi') {
    left.append('tspan').attr('font-weight', 'normal').text('χ');
    left.append('tspan').attr('font-size', 14).attr('dy', -9).text('2');
    left.append('tspan').attr('dy', 9).text(' / ndf');
  } else {
    left.text(r.label);
  }
  const right = svg.append('text').attr('transform', `translate(1147,${rowY[i]}) scale(${SSX},1)`)
    .attr('text-anchor', 'end').attr('font-family', FONT).attr('font-weight', 'bold').attr('font-size', 22);
  right.append('tspan').text(r.value);
  if (r.err) {
    right.append('tspan').attr('font-weight', 'normal').text(' ± ');
    right.append('tspan').text(r.err);
  }
});

// red points with error bars
const plot = svg.append('g').attr('clip-path', 'url(#plotClip)');
const bins = binP.map((p, i) => ({ p, df: binDF[i], e: binErr[i] }));
plot.append('g').selectAll('line').data(bins).join('line')
  .attr('x1', d => x(d.p)).attr('x2', d => x(d.p))
  .attr('y1', d => y(d.df - d.e)).attr('y2', d => y(d.df + d.e))
  .attr('stroke', '#ff0000').attr('stroke-width', 3.5);
plot.append('g').selectAll('rect').data(bins).join('rect')
  .attr('x', d => x(d.p) - 6).attr('y', d => y(d.df) - 6)
  .attr('width', 12).attr('height', 12).attr('fill', '#ff0000');

// black points
const fromColumns = cols => cols.flatMap(([p, ...dfs]) => dfs.map(df => [p, df]));
const scatter = [
  ...dotsWest, ...dotsUpper, ...dotsSpine, ...dotsGap, ...dotsEast, ...dotsEastTail, ...dotsStreak, ...dotsFar,
  ...fromColumns(blobColumns), ...fromColumns(blobColumnsB), ...fromColumns(streakColumns)
];
plot.append('g').selectAll('ellipse').data(scatter).join('ellipse')
  .attr('cx', d => x(d[0])).attr('cy', d => y(d[1]))
  .attr('rx', 3.6).attr('ry', 2.9).attr('fill', '#000');

// fit line
const fitLine = d3.line().x(d => x(d)).y(d => y(fitP0 + fitP1 * d));
plot.append('path').attr('d', fitLine([730.2, 764.5]))
  .attr('fill', 'none').attr('stroke', '#000').attr('stroke-width', 3.5);

// frame
svg.append('rect').attr('x', frame.left).attr('y', frame.top)
  .attr('width', frame.right - frame.left).attr('height', frame.bottom - frame.top)
  .attr('fill', 'none').attr('stroke', '#000').attr('stroke-width', 2);

// ticks (inward, ROOT style)
const axisX = svg.append('g').attr('transform', `translate(0,${frame.bottom})`);
axisX.append('g').call(d3.axisBottom(x).tickValues(d3.range(732, 771, 2)).tickSize(-12).tickSizeOuter(0).tickFormat(''));
axisX.append('g').call(d3.axisBottom(x).tickValues(xTicks).tickSize(-23).tickSizeOuter(0).tickFormat(''));
const axisY = svg.append('g').attr('transform', `translate(${frame.left},0)`);
axisY.append('g').call(d3.axisLeft(y).tickValues(d3.range(-1.2, 1.3, 0.2)).tickSize(-16).tickSizeOuter(0).tickFormat(''));
axisY.append('g').call(d3.axisLeft(y).tickValues(yTicks).tickSize(-31).tickSizeOuter(0).tickFormat(''));
svg.selectAll('.domain').remove();
svg.selectAll('.tick line').attr('stroke', '#000').attr('stroke-width', 1.6);

// tick labels
svg.append('g').selectAll('text').data(xTicks).join('text')
  .attr('transform', d => `translate(${x(d)},935) scale(${SX},1)`)
  .attr('text-anchor', 'middle').attr('font-family', FONT).attr('font-weight', 'bold').attr('font-size', 36)
  .text(d => d);
svg.append('g').selectAll('text').data(yTicks).join('text')
  .attr('transform', d => `translate(139,${y(d) + 13}) scale(${SX},1)`)
  .attr('text-anchor', 'end').attr('font-family', FONT).attr('font-weight', 'bold').attr('font-size', 36)
  .text(d => d);

// axis titles
const xt = svg.append('text').attr('transform', `translate(1172,970) scale(${SX},1)`)
  .attr('text-anchor', 'end').attr('font-family', FONT).attr('font-weight', 'bold').attr('font-size', 36);
xt.append('tspan').text('P');
xt.append('tspan').attr('font-size', 24).attr('dy', 10).text('atm');
xt.append('tspan').attr('dy', -10).text(',mm Hg');

svg.append('text').attr('transform', 'translate(77,105) scale(1.2,1) rotate(-90)')
  .attr('text-anchor', 'end').attr('font-family', FONT).attr('font-weight', 'bold').attr('font-size', 35)
  .text('ΔF, %');
</script>
</body>
</html>
